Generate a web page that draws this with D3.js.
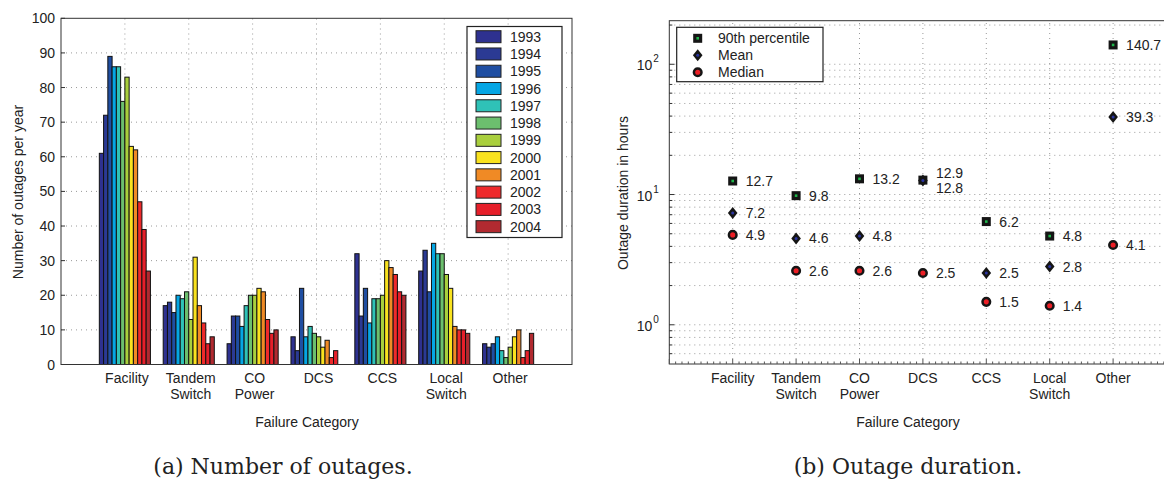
<!DOCTYPE html>
<html>
<head>
<meta charset="utf-8">
<script src="https://cdn.jsdelivr.net/npm/d3@7"></script>
<style>
  body { margin: 0; background: #fff; }
  svg text { font-family: "Liberation Sans", Arial, sans-serif; fill: #222; }
  .caption { font-family: "DejaVu Serif", "Liberation Serif", serif !important; }
</style>
</head>
<body>
<div id="my_dataviz"></div>
<script>
// ---- data ----
var categories = ["Facility", "Tandem Switch", "CO Power", "DCS", "CCS", "Local Switch", "Other"];
var years = ["1993", "1994", "1995", "1996", "1997", "1998", "1999", "2000", "2001", "2002", "2003", "2004"];
var yearColors = ["#2e3190", "#2b3a94", "#1f4ea2", "#05a6e4", "#2fc2b7", "#6cbf6e", "#a9cf3d", "#f9e21f", "#f08a25", "#ee2a2b", "#e61f2a", "#b12a30"];

// outages per year, one row per category, one value per year
var facility = [61, 72, 89, 86, 86, 76, 83, 63, 62, 47, 39, 27];
var tandemSwitch = [17, 18, 15, 20, 19, 21, 13, 31, 17, 12, 6, 8];
var coPower = [6, 14, 14, 11, 17, 20, 20, 22, 21, 13, 9, 10];
var dcs = [8, 4, 22, 8, 11, 9, 8, 5, 7, 2, 4, 0];
var ccs = [32, 14, 22, 12, 19, 19, 20, 30, 28, 26, 21, 20];
var localSwitch = [27, 33, 21, 35, 32, 32, 26, 22, 11, 10, 10, 9];
var other = [6, 5, 6, 8, 4, 2, 5, 8, 10, 2, 4, 9];
var outages = [facility, tandemSwitch, coPower, dcs, ccs, localSwitch, other];

var yTicksLeft = [0, 10, 20, 30, 40, 50, 60, 70, 80, 90, 100];

// outage duration in hours
var p90 = [12.7, 9.8, 13.2, 12.9, 6.2, 4.8, 140.7];
var meanDur = [7.2, 4.6, 4.8, 12.8, 2.5, 2.8, 39.3];
var medianDur = [4.9, 2.6, 2.6, 2.5, 1.5, 1.4, 4.1];
var seriesNames = ["90th percentile", "Mean", "Median"];
var yTicksRight = [1, 10, 100];

var W = 1164, H = 480;
var svg = d3.select("#my_dataviz")
  .append("svg")
  .attr("width", W)
  .attr("height", H);

var gridColor = "#9a9a9a";
var gridDash = "1,4";

// category labels, split on the space into two lines
function catLabel(g, x, y, name) {
  var lines = name.split(" ");
  lines.forEach(function (l, i) {
    g.append("text")
      .attr("x", x)
      .attr("y", y + i * 15.5)
      .attr("text-anchor", "middle")
      .style("font-size", "14px")
      .text(l);
  });
}

//__________________ (a) number of outages __________________//
var xL = d3.scaleLinear().domain([0, 8]).range([61, 572]);
var yL = d3.scaleLinear().domain([0, 100]).range([364.5, 18.3]);
var groupW = 0.8 * (xL(1) - xL(0));
var inner = d3.scaleBand().domain(years).range([-groupW / 2, groupW / 2]).padding(0);

var gL = svg.append("g");

// grid
gL.selectAll(".hgrid")
  .data(yTicksLeft.slice(1, -1))
  .enter().append("line")
  .attr("x1", xL(0)).attr("x2", xL(8))
  .attr("y1", function (d) { return yL(d); })
  .attr("y2", function (d) { return yL(d); })
  .style("stroke", gridColor).style("stroke-dasharray", gridDash);
gL.selectAll(".vgrid")
  .data(categories)
  .enter().append("line")
  .attr("x1", function (d, i) { return xL(i + 1); })
  .attr("x2", function (d, i) { return xL(i + 1); })
  .attr("y1", yL(0)).attr("y2", yL(100))
  .style("stroke", gridColor).style("stroke-dasharray", gridDash);

// bars
var barData = [];
outages.forEach(function (row, ci) {
  row.forEach(function (v, yi) {
    barData.push({ cat: ci, year: years[yi], color: yearColors[yi], value: v });
  });
});
gL.selectAll(".bar")
  .data(barData)
  .enter().append("rect")
  .attr("x", function (d) { return xL(d.cat + 1) + inner(d.year); })
  .attr("y", function (d) { return yL(d.value); })
  .attr("width", inner.bandwidth())
  .attr("height", function (d) { return yL(0) - yL(d.value); })
  .style("fill", function (d) { return d.color; })
  .style("stroke", "#111")
  .style("stroke-width", 1);

// frame
gL.append("rect")
  .attr("x", xL(0)).attr("y", yL(100))
  .attr("width", xL(8) - xL(0)).attr("height", yL(0) - yL(100))
  .style("fill", "none").style("stroke", "#333").style("stroke-width", 1);

// y ticks
gL.selectAll(".ytick")
  .data(yTicksLeft)
  .enter().append("line")
  .attr("x1", xL(0)).attr("x2", xL(0) + 4)
  .attr("y1", function (d) { return yL(d); })
  .attr("y2", function (d) { return yL(d); })
  .style("stroke", "#333");
gL.selectAll(".ylab")
  .data(yTicksLeft)
  .enter().append("text")
  .attr("x", xL(0) - 6)
  .attr("y", function (d) { return yL(d) + 5; })
  .attr("text-anchor", "end")
  .style("font-size", "14px")
  .text(function (d) { return d; });

categories.forEach(function (c, i) { catLabel(gL, xL(i + 1) + 2, 383, c); });

gL.append("text")
  .attr("x", 307).attr("y", 427)
  .attr("text-anchor", "middle")
  .style("font-size", "14px")
  .text("Failure Category");

gL.append("text")
  .attr("transform", "translate(23,192) rotate(-90)")
  .attr("text-anchor", "middle")
  .style("font-size", "14px")
  .text("Number of outages per year");

gL.append("text")
  .attr("class", "caption")
  .attr("x", 283).attr("y", 474)
  .attr("text-anchor", "middle")
  .style("font-size", "22px")
  .text("(a) Number of outages.");

// legend
var legL = gL.append("g");
legL.append("rect")
  .attr("x", 467).attr("y", 26.5).attr("width", 95).attr("height", 211)
  .style("fill", "#fff").style("stroke", "#222").style("stroke-width", 1.2);
years.forEach(function (yr, i) {
  var cy = 36.7 + i * 17.27;
  legL.append("rect")
    .attr("x", 476).attr("y", cy - 6).attr("width", 25).attr("height", 12)
    .style("fill", yearColors[i]).style("stroke", "#222").style("stroke-width", 1);
  legL.append("text")
    .attr("x", 510).attr("y", cy + 5)
    .style("font-size", "14px")
    .text(yr);
});

//__________________ (b) outage duration __________________//
var xR = d3.scaleLinear().domain([0, 8]).range([669.3, 1176.5]);
var yR = d3.scaleLog().domain([0.5, 216]).range([364, 20.7]);
var gR = svg.append("g");

// log grid: every minor step inside the domain
var logGrid = [];
[0.1, 1, 10, 100].forEach(function (dec) {
  for (var k = 1; k < 10; k++) {
    var v = dec * k;
    if (v > 0.5 && v < 216) logGrid.push(v);
  }
});
gR.selectAll(".hgrid")
  .data(logGrid)
  .enter().append("line")
  .attr("x1", xR(0)).attr("x2", xR(8))
  .attr("y1", function (d) { return yR(d); })
  .attr("y2", function (d) { return yR(d); })
  .style("stroke", gridColor).style("stroke-dasharray", gridDash);
gR.selectAll(".vgrid")
  .data(categories)
  .enter().append("line")
  .attr("x1", function (d, i) { return xR(i + 1); })
  .attr("x2", function (d, i) { return xR(i + 1); })
  .attr("y1", yR(0.5)).attr("y2", yR(216))
  .style("stroke", gridColor).style("stroke-dasharray", gridDash);

// frame
gR.append("rect")
  .attr("x", xR(0)).attr("y", yR(216))
  .attr("width", xR(8) - xR(0)).attr("height", yR(0.5) - yR(216))
  .style("fill", "none").style("stroke", "#333").style("stroke-width", 1);

// minor ticks, left and bottom
gR.selectAll(".ymin")
  .data(logGrid)
  .enter().append("line")
  .attr("x1", xR(0)).attr("x2", function (d) { return xR(0) + (yTicksRight.indexOf(d) >= 0 ? 5 : 3); })
  .attr("y1", function (d) { return yR(d); })
  .attr("y2", function (d) { return yR(d); })
  .style("stroke", "#333");
gR.selectAll(".xmin")
  .data(d3.range(0, 80).map(function (k) { return k / 10; }))
  .enter().append("line")
  .attr("x1", function (d) { return xR(d); })
  .attr("x2", function (d) { return xR(d); })
  .attr("y1", yR(0.5))
  .attr("y2", function (d) { return yR(0.5) - (Math.abs(d - Math.round(d)) < 0.01 ? 5 : 2.5); })
  .style("stroke", "#555");

// y tick labels 10^n
yTicksRight.forEach(function (t) {
  gR.append("text")
    .attr("x", xR(0) - 17).attr("y", yR(t) + 6)
    .attr("text-anchor", "end")
    .style("font-size", "14px")
    .text("10");
  gR.append("text")
    .attr("x", xR(0) - 16).attr("y", yR(t) - 2)
    .style("font-size", "10px")
    .text(Math.round(Math.log10(t)));
});

categories.forEach(function (c, i) { catLabel(gR, xR(i + 1), 383, c); });

gR.append("text")
  .attr("x", 908).attr("y", 427)
  .attr("text-anchor", "middle")
  .style("font-size", "14px")
  .text("Failure Category");

gR.append("text")
  .attr("transform", "translate(628,193) rotate(-90)")
  .attr("text-anchor", "middle")
  .style("font-size", "14px")
  .text("Outage duration in hours");

gR.append("text")
  .attr("class", "caption")
  .attr("x", 908).attr("y", 474)
  .attr("text-anchor", "middle")
  .style("font-size", "22px")
  .text("(b) Outage duration.");

// marker painters
function square(g, x, y) {
  g.append("rect").attr("x", x - 4.5).attr("y", y - 4.5).attr("width", 9).attr("height", 9)
    .style("fill", "#151515");
  g.append("rect").attr("x", x - 1.3).attr("y", y - 1.3).attr("width", 2.6).attr("height", 2.6)
    .style("fill", "#1fb54a");
}
function diamond(g, x, y) {
  g.append("path")
    .attr("d", "M" + x + "," + (y - 6) + "L" + (x + 4.8) + "," + y + "L" + x + "," + (y + 6) + "L" + (x - 4.8) + "," + y + "Z")
    .style("fill", "#151515");
  g.append("circle").attr("cx", x).attr("cy", y).attr("r", 1.5).style("fill", "#2b35a0");
}
function dot(g, x, y) {
  g.append("circle").attr("cx", x).attr("cy", y).attr("r", 3.8)
    .style("fill", "#ec1f26").style("stroke", "#151515").style("stroke-width", 2.5);
}
var painters = [square, diamond, dot];
var series = [p90, meanDur, medianDur];

var gM = gR.append("g");
series.forEach(function (vals, si) {
  vals.forEach(function (v, ci) {
    var x = xR(ci + 1), y = yR(v);
    painters[si](gM, x, y);
    // nudge labels apart when two points of one category nearly coincide
    var dy = 0;
    series.forEach(function (other, oj) {
      if (oj !== si && Math.abs(Math.log10(other[ci] / v)) < 0.02) {
        dy = other[ci] < v ? -7 : 7;
      }
    });
    gM.append("text")
      .attr("x", x + 13).attr("y", y + dy + 5)
      .style("font-size", "14px")
      .text(v.toFixed(1));
  });
});

// legend
var legR = gR.append("g");
legR.append("rect")
  .attr("x", 676.7).attr("y", 27.3).attr("width", 146.3).attr("height", 54.4)
  .style("fill", "#fff").style("stroke", "#222").style("stroke-width", 1.2);
seriesNames.forEach(function (n, i) {
  var cy = 38.3 + i * 17;
  painters[i](legR, 697.7, cy);
  legR.append("text")
    .attr("x", 718).attr("y", cy + 5)
    .style("font-size", "14px")
    .text(n);
});
</script>
</body>
</html>
